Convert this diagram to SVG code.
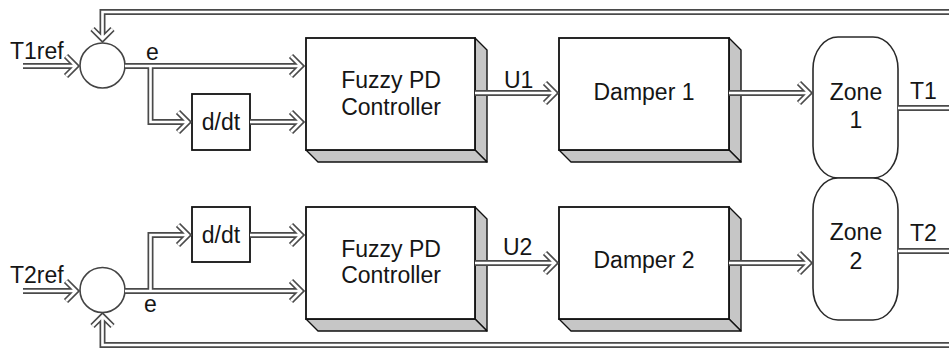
<svg xmlns="http://www.w3.org/2000/svg" xmlns:xlink="http://www.w3.org/1999/xlink" width="949" height="349" viewBox="0 0 949 349">
<style>
.box{fill:#fff;stroke:#111;stroke-width:1.8}
.ext{fill:#c6c6c6;stroke:#111;stroke-width:1.4;stroke-linejoin:round}
.sum{fill:#fff;stroke:#444;stroke-width:1.6}
.zone{fill:#fff;stroke:#2a2a2a;stroke-width:1.6}
.t{font-family:"Liberation Sans",Arial,sans-serif;font-size:23px;fill:#151515}
.m{text-anchor:middle}
.o{fill:none;stroke:#4a4a4a;stroke-width:6;stroke-linejoin:miter}
.i{fill:none;stroke:#fff;stroke-width:2.6;stroke-linejoin:miter}
</style>
<defs>
<path id="c1" d="M23,66 H76 M66,56 L76,66 L66,76"/>
<path id="c2" d="M960,12 H102.5 V39 M92.5,29 L102.5,39 L112.5,29"/>
<path id="c3" d="M125,66 H301 M291,56 L301,66 L291,76"/>
<path id="c4" d="M150.5,66 V122 H188 M178,112 L188,122 L178,132"/>
<path id="c5" d="M250,122 H301 M291,112 L301,122 L291,132"/>
<path id="c6" d="M475,93 H555 M545,83 L555,93 L545,103"/>
<path id="c7" d="M729,93 H809 M799,83 L809,93 L799,103"/>
<path id="c8" d="M898,108 H960"/>
<path id="c9" d="M23,291 H76 M66,281 L76,291 L66,301"/>
<path id="c10" d="M960,345 H102.5 V316 M92.5,326 L102.5,316 L112.5,326"/>
<path id="c11" d="M125,291 H301 M291,281 L301,291 L291,301"/>
<path id="c12" d="M150.5,291 V235 H188 M178,225 L188,235 L178,245"/>
<path id="c13" d="M250,235 H301 M291,225 L301,235 L291,245"/>
<path id="c14" d="M475,263 H555 M545,253 L555,263 L545,273"/>
<path id="c15" d="M729,263 H809 M799,253 L809,263 L799,273"/>
<path id="c16" d="M898,251 H960"/>
</defs>

<g id="sum1"><circle class="sum" cx="102.5" cy="65.5" r="22.5"/></g>
<g id="sum2"><circle class="sum" cx="102.5" cy="290" r="22.5"/></g>

<g id="ddt1"><rect class="box" x="192" y="94" width="58" height="56"/><text class="t m" x="221" y="130">d/dt</text></g>
<g id="ddt2"><rect class="box" x="192" y="207" width="58" height="55"/><text class="t m" x="221" y="243">d/dt</text></g>

<g id="ctrl1">
<polygon class="ext" points="475,38 487,50 487,162 475,150"/>
<polygon class="ext" points="306,150 475,150 487,162 318,162"/>
<rect class="box" x="306" y="38" width="169" height="112"/>
<text class="t m" x="391" y="88">Fuzzy PD</text><text class="t m" x="391" y="115">Controller</text>
</g>
<g id="damper1">
<polygon class="ext" points="729,38 741,50 741,162 729,150"/>
<polygon class="ext" points="559,150 729,150 741,162 571,162"/>
<rect class="box" x="559" y="38" width="170" height="112"/>
<text class="t m" x="644" y="100">Damper 1</text>
</g>
<g id="ctrl2">
<polygon class="ext" points="475,207 487,219 487,331 475,319"/>
<polygon class="ext" points="306,319 475,319 487,331 318,331"/>
<rect class="box" x="306" y="207" width="169" height="112"/>
<text class="t m" x="391" y="257">Fuzzy PD</text><text class="t m" x="391" y="283">Controller</text>
</g>
<g id="damper2">
<polygon class="ext" points="729,207 741,219 741,331 729,319"/>
<polygon class="ext" points="559,319 729,319 741,331 571,331"/>
<rect class="box" x="559" y="207" width="170" height="112"/>
<text class="t m" x="644" y="268">Damper 2</text>
</g>
<g id="zone1"><rect class="zone" x="813" y="37" width="85" height="141" rx="25" ry="32"/><text class="t m" x="856" y="100">Zone</text><text class="t m" x="856" y="128">1</text></g>
<g id="zone2"><rect class="zone" x="813" y="178" width="85" height="142" rx="25" ry="32"/><text class="t m" x="856" y="240">Zone</text><text class="t m" x="856" y="269">2</text></g>

<g id="connectors">
<g class="o">
<use xlink:href="#c1"/><use xlink:href="#c2"/><use xlink:href="#c3"/><use xlink:href="#c4"/><use xlink:href="#c5"/><use xlink:href="#c6"/><use xlink:href="#c7"/><use xlink:href="#c8"/>
<use xlink:href="#c9"/><use xlink:href="#c10"/><use xlink:href="#c11"/><use xlink:href="#c12"/><use xlink:href="#c13"/><use xlink:href="#c14"/><use xlink:href="#c15"/><use xlink:href="#c16"/>
</g>
<g class="i">
<use xlink:href="#c1"/><use xlink:href="#c2"/><use xlink:href="#c3"/><use xlink:href="#c4"/><use xlink:href="#c5"/><use xlink:href="#c6"/><use xlink:href="#c7"/><use xlink:href="#c8"/>
<use xlink:href="#c9"/><use xlink:href="#c10"/><use xlink:href="#c11"/><use xlink:href="#c12"/><use xlink:href="#c13"/><use xlink:href="#c14"/><use xlink:href="#c15"/><use xlink:href="#c16"/>
</g>
</g>

<g id="labels">
<text class="t" x="10" y="59">T1ref</text>
<text class="t" x="10" y="283">T2ref</text>
<text class="t" x="146" y="60">e</text>
<text class="t" x="144" y="312">e</text>
<text class="t" x="504" y="88">U1</text>
<text class="t" x="503" y="255">U2</text>
<text class="t" x="910" y="99">T1</text>
<text class="t" x="910" y="241">T2</text>
</g>
</svg>
